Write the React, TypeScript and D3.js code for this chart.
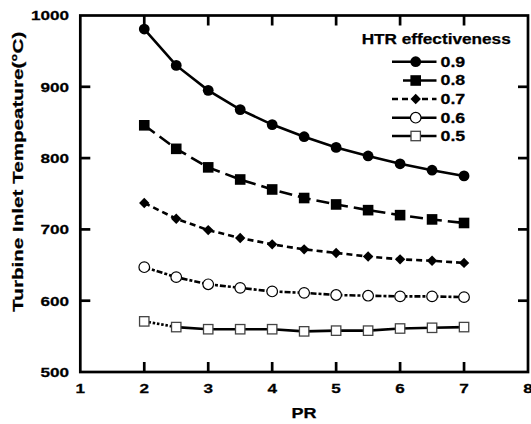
import React from "react";
import * as d3 from "d3";

const prValues = [2, 2.5, 3, 3.5, 4, 4.5, 5, 5.5, 6, 6.5, 7];
const eff09 = [981, 930, 895, 868, 847, 830, 815, 803, 792, 783, 775];
const eff08 = [846, 813, 787, 770, 756, 744, 735, 727, 720, 714, 709];
const eff07 = [737, 715, 699, 688, 679, 672, 667, 662, 658, 656, 653];
const eff06 = [647, 633, 623, 618, 613, 611, 608, 607, 606, 606, 605];
const eff05 = [571, 563, 560, 560, 560, 557, 558, 558, 561, 562, 563];
const seriesLabels = ["0.9", "0.8", "0.7", "0.6", "0.5"];
const xTicks = [1, 2, 3, 4, 5, 6, 7, 8];
const yTicks = [500, 600, 700, 800, 900, 1000];

const W = 531, H = 424;
const M = { left: 80.3, right: 528, top: 15.5, bottom: 372 };
const FONT = "'Liberation Sans', Arial, sans-serif";
const SX = 1.27;

type Style = { dash: string; marker: string };
const styles: Style[] = [
  { dash: "none", marker: "circle" },
  { dash: "13,6", marker: "square" },
  { dash: "6,4", marker: "diamond" },
  { dash: "6,2,3,2", marker: "ocircle" },
  { dash: "none", marker: "osquare" },
];

function Marker({ type, x, y }: { type: string; x: number; y: number }) {
  if (type === "circle") return <circle cx={x} cy={y} r={5.4} fill="#000" />;
  if (type === "square") return <rect x={x - 5.3} y={y - 5.3} width={10.6} height={10.6} fill="#000" />;
  if (type === "diamond")
    return <path d={`M${x},${y - 5.2}L${x + 5.2},${y}L${x},${y + 5.2}L${x - 5.2},${y}Z`} fill="#000" />;
  if (type === "ocircle") return <circle cx={x} cy={y} r={5.3} fill="#fff" stroke="#000" strokeWidth={1.2} />;
  return <rect x={x - 4.7} y={y - 4.7} width={9.4} height={9.4} fill="#fff" stroke="#444" strokeWidth={1.3} />;
}

function T({ x, y, size, anchor = "start", rotate = 0, len, children }: any) {
  const sx = len ? 1 : SX;
  return (
    <g transform={`translate(${x},${y}) rotate(${rotate}) scale(${sx},1)`}>
      <text x={0} y={0} fontFamily={FONT} fontWeight="bold" fontSize={size} textAnchor={anchor}
        dominantBaseline="central" stroke="#000" strokeWidth={0.25}
        textLength={len} lengthAdjust={len ? "spacingAndGlyphs" : undefined}>
        {children}
      </text>
    </g>
  );
}

export default function App() {
  const x = d3.scaleLinear().domain([1, 8]).range([M.left, M.right]);
  const y = d3.scaleLinear().domain([500, 1000]).range([M.bottom, M.top]);
  const all = [eff09, eff08, eff07, eff06, eff05];
  const line = d3
    .line<number>()
    .x((_, i) => x(prValues[i]))
    .y((d) => y(d));
  const lineIdx = d3
    .line<[number, number]>()
    .x((d) => x(d[0]))
    .y((d) => y(d[1]));

  const legX = 415.7;
  const legY = [61.7, 80.5, 99, 117.7, 136];

  return (
    <svg width={W} height={H} style={{ position: "absolute", left: 0, top: 0, background: "#fff" }}>
      {all.map((vals, si) => {
        const st = styles[si];
        if (si === 4) {
          const pts = prValues.map((p, i) => [p, vals[i]] as [number, number]);
          return (
            <g key={si}>
              <path d={lineIdx(pts.slice(0, 2)) || ""} fill="none" stroke="#000" strokeWidth={2.6} strokeDasharray="2.5,1.8" />
              <path d={lineIdx(pts.slice(1)) || ""} fill="none" stroke="#000" strokeWidth={2.6} />
            </g>
          );
        }
        return (
          <path key={si} d={line(vals) || ""} fill="none" stroke="#000" strokeWidth={2.6}
            strokeDasharray={st.dash === "none" ? undefined : st.dash} />
        );
      })}
      {all.map((vals, si) =>
        vals.map((v, i) => <Marker key={`${si}-${i}`} type={styles[si].marker} x={x(prValues[i])} y={y(v)} />)
      )}

      <rect x={M.left} y={M.top} width={M.right - M.left} height={M.bottom - M.top} fill="none" stroke="#000" strokeWidth={2.7} />
      {xTicks.slice(1, -1).map((t) => (
        <g key={`xt${t}`}>
          <line x1={x(t)} x2={x(t)} y1={M.bottom} y2={M.bottom - 10} stroke="#000" strokeWidth={2.7} />
          <line x1={x(t)} x2={x(t)} y1={M.top} y2={M.top + 10} stroke="#000" strokeWidth={2.7} />
        </g>
      ))}
      {yTicks.slice(1, -1).map((t) => (
        <g key={`yt${t}`}>
          <line x1={M.left} x2={M.left + 10} y1={y(t)} y2={y(t)} stroke="#000" strokeWidth={2.7} />
          <line x1={M.right} x2={M.right - 10} y1={y(t)} y2={y(t)} stroke="#000" strokeWidth={2.7} />
        </g>
      ))}

      {xTicks.map((t) => (
        <T key={`xl${t}`} x={x(t)} y={388} size={13.5} anchor="middle">{t}</T>
      ))}
      {yTicks.map((t) => (
        <T key={`yl${t}`} x={69} y={y(t)} size={13.5} anchor="end">{t}</T>
      ))}

      <T x={304} y={413} size={14} anchor="middle" len={25}>PR</T>
      <T x={17.5} y={171.7} size={15} anchor="middle" rotate={-90} len={280}>Turbine Inlet Tempeature(°C)</T>

      <T x={361.7} y={38.5} size={14} anchor="start" len={149}>HTR effectiveness</T>
      {seriesLabels.map((lab, si) => (
        <g key={`lg${si}`}>
          <line x1={si === 1 ? 403 : 392} x2={436.5} y1={legY[si]} y2={legY[si]} stroke="#000" strokeWidth={2.6}
            strokeDasharray={si === 2 ? "6,4" : undefined} />
          <Marker type={styles[si].marker} x={legX} y={legY[si]} />
          <T x={440.5} y={legY[si]} size={14}>{lab}</T>
        </g>
      ))}
    </svg>
  );
}
